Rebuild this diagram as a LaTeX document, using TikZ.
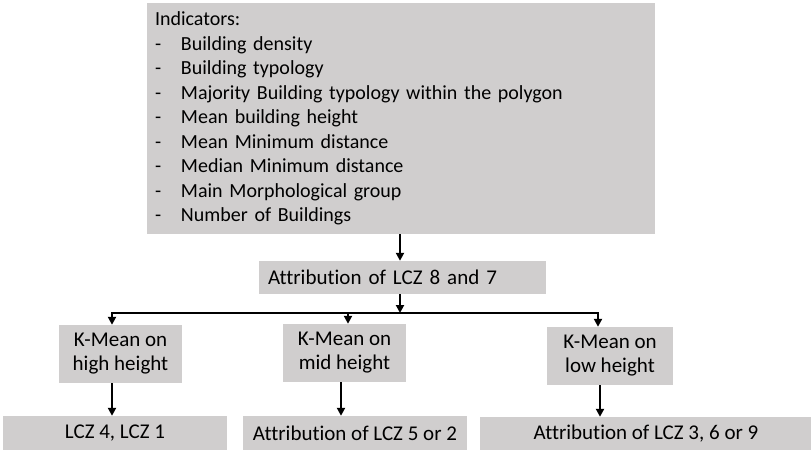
\documentclass[tikz,border=0pt]{standalone}
\usepackage{fontspec}
\setmainfont[RawFeature={-liga}]{Carlito}
\usetikzlibrary{arrows.meta,calc}
\definecolor{boxgray}{RGB}{208,206,206}
\tikzset{
  gbox/.style={fill=boxgray, draw=none, inner sep=0pt, align=center},
  conn/.style={line width=2pt, -{Triangle[width=8pt,length=8pt]}},
  txt/.style={font=\fontsize{20}{24.5}\selectfont},
  ltxt/.style={font=\fontsize{21}{24}\selectfont},
}
\newcommand{\itm}[1]{\makebox[26pt][l]{-}#1}
\begin{document}
\begin{tikzpicture}[x=1pt,y=-1pt]
\useasboundingbox (0,0) rectangle (811,450);
\node[gbox, minimum width=508pt, minimum height=231pt, text width=492pt, align=left, txt] (top) at (401,118.5)
 {Indicators:\\
  \itm{Building density}\\
  \itm{Building typology}\\
  \itm{Majority Building typology within the polygon}\\
  \itm{Mean building height}\\
  \itm{Mean Minimum distance}\\
  \itm{Median Minimum distance}\\
  \itm{Main Morphological group}\\
  \itm{Number of Buildings}};
\node[gbox, minimum width=287pt, minimum height=33pt, text width=269pt, align=left, ltxt] (att) at (402.5,277.5) {\raisebox{-2pt}{Attribution of LCZ 8 and 7}};
\node[gbox, minimum width=123pt, minimum height=58pt, ltxt] (kh) at (120.5,354) {K-Mean on\\high height};
\node[gbox, minimum width=123pt, minimum height=58pt, ltxt] (km) at (344.5,353) {K-Mean on\\mid height};
\node[gbox, minimum width=126pt, minimum height=58pt, ltxt] (kl) at (610,356) {K-Mean on\\low height};
\node[gbox, minimum width=224pt, minimum height=34pt, ltxt] (b1) at (115,433) {LCZ 4, LCZ 1};
\node[gbox, minimum width=224pt, minimum height=34pt, ltxt] (b2) at (355,433) {Attribution of LCZ 5 or 2};
\node[gbox, minimum width=332pt, minimum height=33pt, ltxt] (b3) at (646,433.5) {Attribution of LCZ 3, 6 or 9};
\coordinate (hub) at (400,313);
\coordinate (bl) at (112,313);
\coordinate (bm) at (348,313);
\coordinate (br) at (598,313);
\coordinate (dm) at (341,400);
\coordinate (dr) at (600,400);
\draw[conn] (top.south -| hub) -- (att.north -| hub);
\draw[conn] (att.south -| hub) -- (hub);
\draw[conn, {Triangle[width=8pt,length=8pt]}-{Triangle[width=8pt,length=8pt]}] (kh.north -| bl) -- (bl) -- (br) -- (kl.north -| br);
\draw[conn] (bm) -- (km.north -| bm);
\draw[conn] (kh.south -| bl) -- (b1.north -| bl);
\draw[conn] (km.south -| dm) -- (b2.north -| dm);
\draw[conn] (kl.south -| dr) -- (b3.north -| dr);
\end{tikzpicture}
\end{document}
